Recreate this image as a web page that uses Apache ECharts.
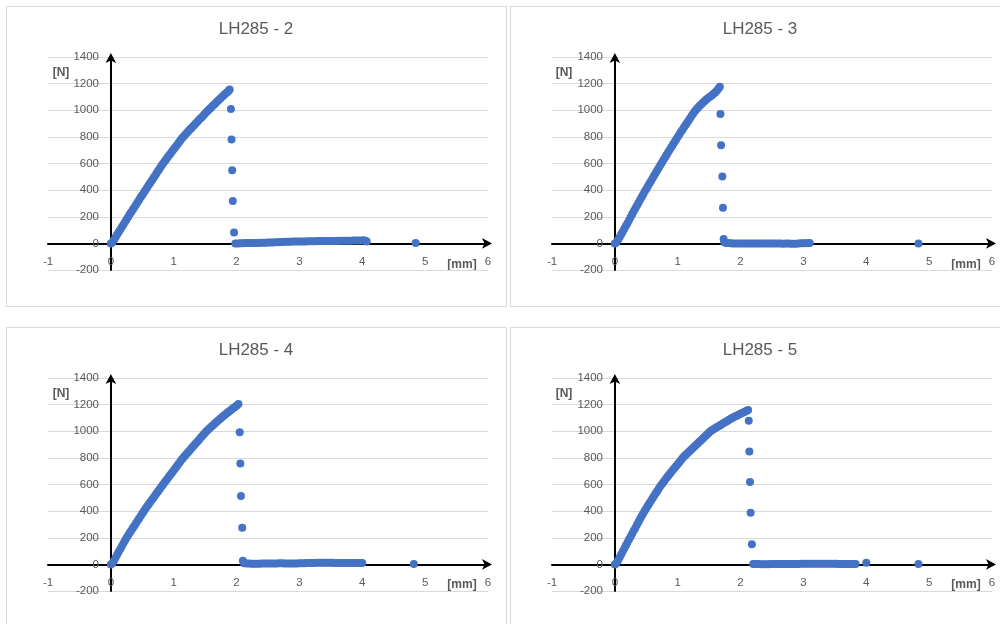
<!DOCTYPE html>
<html>
<head>
<meta charset="utf-8">
<script src="https://cdn.jsdelivr.net/npm/echarts@6/dist/echarts.min.js"></script>
<style>
html,body{margin:0;padding:0;background:#fff;}
#c{width:1000px;height:624px;}
</style>
</head>
<body>
<div id="c"></div>
<script>
// ---- data (displacement [mm], force [N]) ----
var titles = ['LH285 - 2', 'LH285 - 3', 'LH285 - 4', 'LH285 - 5'];
var xTicks = { min: -1, max: 6, interval: 1 };
var yTicks = { min: -200, max: 1400, interval: 200 };

var lh285_2 = [
  [0,0],[0.025,8],[0.05,25],[0.075,46],[0.1,66],[0.125,85],[0.15,104],[0.175,123],[0.2,142],[0.225,161],
  [0.25,180],[0.275,199],[0.3,218],[0.325,236],[0.35,254],[0.375,272],[0.4,290],[0.425,309],[0.45,327],[0.475,346],
  [0.5,364],[0.525,382],[0.55,400],[0.575,418],[0.6,436],[0.625,453],[0.65,471],[0.675,489],[0.7,507],[0.725,525],
  [0.75,543],[0.775,561],[0.8,579],[0.825,596],[0.85,613],[0.875,629],[0.9,645],[0.925,661],[0.95,676],[0.975,692],
  [1.0,707],[1.025,723],[1.05,738],[1.075,754],[1.1,769],[1.125,785],[1.15,800],[1.175,813],[1.2,826],[1.225,838],
  [1.25,851],[1.275,863],[1.3,876],[1.325,888],[1.35,901],[1.375,913],[1.4,926],[1.425,938],[1.45,950],[1.475,963],
  [1.5,975],[1.525,988],[1.55,1000],[1.575,1012],[1.6,1023],[1.625,1035],[1.65,1046],[1.675,1058],[1.7,1069],[1.725,1081],
  [1.75,1092],[1.775,1103],[1.8,1114],[1.825,1125],[1.85,1136],[1.875,1147],[1.89,1155],
  [1.91,1010],[1.92,780],[1.93,550],[1.94,318],[1.96,82],
  [1.98,0],[2.02,0],[2.06,1],[2.1,1],[2.14,2],[2.18,2],[2.22,2],[2.26,2],[2.3,3],[2.34,3],
  [2.38,4],[2.42,4],[2.46,5],[2.5,6],[2.54,6],[2.58,7],[2.62,8],[2.66,9],[2.7,10],[2.74,11],
  [2.78,12],[2.82,13],[2.86,13],[2.9,14],[2.94,14],[2.98,15],[3.02,15],[3.06,15],[3.1,15],[3.14,16],
  [3.18,16],[3.22,16],[3.26,16],[3.3,17],[3.34,17],[3.38,17],[3.42,17],[3.46,18],[3.5,18],[3.54,18],
  [3.58,18],[3.62,19],[3.66,19],[3.7,19],[3.74,19],[3.78,20],[3.82,20],[3.86,21],[3.9,21],[3.94,22],
  [3.98,22],[4.02,23],[4.05,20],[4.07,15],
  [4.85,3]
];
var lh285_3 = [
  [0,0],[0.025,8],[0.05,26],[0.075,46],[0.1,67],[0.125,88],[0.15,109],[0.175,131],[0.2,152],[0.225,174],
  [0.25,197],[0.275,219],[0.3,241],[0.325,262],[0.35,283],[0.375,304],[0.4,326],[0.425,347],[0.45,368],[0.475,389],
  [0.5,409],[0.525,429],[0.55,449],[0.575,469],[0.6,489],[0.625,509],[0.65,529],[0.675,549],[0.7,569],[0.725,589],
  [0.75,608],[0.775,628],[0.8,647],[0.825,666],[0.85,686],[0.875,705],[0.9,724],[0.925,743],[0.95,762],[0.975,781],
  [1.0,800],[1.025,818],[1.05,836],[1.075,854],[1.1,872],[1.125,890],[1.15,907],[1.175,925],[1.2,942],[1.225,960],
  [1.25,977],[1.275,994],[1.3,1008],[1.325,1021],[1.35,1033],[1.375,1045],[1.4,1057],[1.425,1068],[1.45,1078],[1.475,1088],
  [1.5,1097],[1.525,1105],[1.55,1115],[1.575,1125],[1.6,1135],[1.625,1148],[1.65,1163],[1.67,1177],
  [1.68,972],[1.69,737],[1.71,502],[1.72,268],[1.73,32],
  [1.74,8],[1.77,3],[1.8,2],[1.84,1],[1.88,0],[1.92,0],[1.96,0],[2.0,-1],[2.04,-1],[2.08,-1],
  [2.12,-1],[2.16,-1],[2.2,-1],[2.24,-1],[2.28,-1],[2.32,-1],[2.36,-1],[2.4,-1],[2.44,-1],[2.48,0],
  [2.52,0],[2.56,0],[2.6,-1],[2.64,-1],[2.68,-2],[2.72,-1],[2.76,0],[2.8,-2],[2.84,-3],[2.88,-2],
  [2.92,0],[2.96,1],[3.0,1],[3.04,1],[3.08,2],[3.1,2],
  [4.83,0]
];
var lh285_4 = [
  [0,0],[0.025,8],[0.05,28],[0.075,50],[0.1,72],[0.125,94],[0.15,115],[0.175,137],[0.2,158],[0.225,179],
  [0.25,200],[0.275,219],[0.3,237],[0.325,255],[0.35,273],[0.375,291],[0.4,309],[0.425,327],[0.45,345],[0.475,364],
  [0.5,382],[0.525,400],[0.55,417],[0.575,434],[0.6,450],[0.625,467],[0.65,483],[0.675,499],[0.7,515],[0.725,532],
  [0.75,548],[0.775,565],[0.8,581],[0.825,597],[0.85,613],[0.875,629],[0.9,644],[0.925,660],[0.95,675],[0.975,691],
  [1.0,706],[1.025,722],[1.05,738],[1.075,754],[1.1,769],[1.125,785],[1.15,800],[1.175,814],[1.2,827],[1.225,841],
  [1.25,854],[1.275,868],[1.3,881],[1.325,895],[1.35,908],[1.375,922],[1.4,935],[1.425,949],[1.45,962],[1.475,976],
  [1.5,989],[1.525,1001],[1.55,1013],[1.575,1024],[1.6,1035],[1.625,1046],[1.65,1056],[1.675,1067],[1.7,1077],[1.725,1088],
  [1.75,1098],[1.775,1108],[1.8,1118],[1.825,1128],[1.85,1137],[1.875,1147],[1.9,1156],[1.925,1165],[1.95,1174],[1.975,1183],
  [2.0,1192],[2.03,1205],
  [2.05,992],[2.06,757],[2.07,514],[2.09,275],[2.1,28],
  [2.12,8],[2.16,7],[2.2,6],[2.24,5],[2.28,5],[2.32,5],[2.36,5],[2.4,6],[2.44,6],[2.48,6],
  [2.52,6],[2.56,7],[2.6,7],[2.64,7],[2.68,8],[2.72,8],[2.76,7],[2.8,7],[2.84,6],[2.88,6],
  [2.92,6],[2.96,7],[3.0,8],[3.04,9],[3.08,9],[3.12,10],[3.16,10],[3.2,11],[3.24,11],[3.28,12],
  [3.32,12],[3.36,12],[3.4,12],[3.44,12],[3.48,12],[3.52,12],[3.56,11],[3.6,11],[3.64,11],[3.68,11],
  [3.72,11],[3.76,11],[3.8,11],[3.84,11],[3.88,11],[3.92,11],[3.96,10],[4.0,10],
  [4.82,3]
];
var lh285_5 = [
  [0,0],[0.025,8],[0.05,30],[0.075,52],[0.1,75],[0.125,97],[0.15,120],[0.175,142],[0.2,164],[0.225,186],
  [0.25,208],[0.275,230],[0.3,252],[0.325,274],[0.35,296],[0.375,318],[0.4,340],[0.425,361],[0.45,382],[0.475,402],
  [0.5,422],[0.525,441],[0.55,460],[0.575,478],[0.6,497],[0.625,515],[0.65,534],[0.675,552],[0.7,570],[0.725,588],
  [0.75,604],[0.775,619],[0.8,636],[0.825,651],[0.85,665],[0.875,680],[0.9,695],[0.925,710],[0.95,724],[0.975,739],
  [1.0,753],[1.025,768],[1.05,782],[1.075,797],[1.1,810],[1.125,821],[1.15,833],[1.175,844],[1.2,855],[1.225,867],
  [1.25,878],[1.275,889],[1.3,901],[1.325,912],[1.35,923],[1.375,935],[1.4,946],[1.425,957],[1.45,968],[1.475,980],
  [1.5,991],[1.525,1001],[1.55,1009],[1.575,1016],[1.6,1024],[1.625,1031],[1.65,1038],[1.675,1045],[1.7,1052],[1.725,1060],
  [1.75,1067],[1.775,1074],[1.8,1081],[1.825,1088],[1.85,1095],[1.875,1102],[1.9,1108],[1.925,1114],[1.95,1119],[1.975,1125],
  [2.0,1131],[2.025,1137],[2.05,1142],[2.075,1148],[2.1,1154],[2.12,1160],
  [2.13,1078],[2.14,848],[2.15,618],[2.16,388],[2.18,152],
  [2.2,2],[2.24,2],[2.28,2],[2.32,1],[2.36,1],[2.4,1],[2.44,1],[2.48,2],[2.52,2],[2.56,2],
  [2.6,2],[2.64,2],[2.68,3],[2.72,3],[2.76,3],[2.8,3],[2.84,3],[2.88,3],[2.92,3],[2.96,4],
  [3.0,4],[3.04,4],[3.08,4],[3.12,4],[3.16,4],[3.2,4],[3.24,4],[3.28,4],[3.32,4],[3.36,4],
  [3.4,4],[3.44,4],[3.48,4],[3.52,4],[3.56,3],[3.6,3],[3.64,3],[3.68,3],[3.72,3],[3.76,3],
  [3.8,2],[3.83,2],
  [4.0,12],[4.83,3]
];
var seriesData = [lh285_2, lh285_3, lh285_4, lh285_5];

// ---- layout ----
var panels = [
  { bx: 6,   by: 6,   gl: 48,  gt: 57,  title: [256, 29],  n: [61, 73],   mm: [462, 265] },
  { bx: 510, by: 6,   gl: 552, gt: 57,  title: [760, 29],  n: [564, 73],  mm: [966, 265] },
  { bx: 6,   by: 327, gl: 48,  gt: 378, title: [256, 350], n: [61, 394],  mm: [462, 585] },
  { bx: 510, by: 327, gl: 552, gt: 378, title: [760, 350], n: [564, 394], mm: [966, 585] }
];
var textColor = '#595959';
var font = 'Liberation Sans, Arial, sans-serif';
function plain(v) { return String(v); }

var grids = [], xAxes = [], yAxes = [], series = [], graphics = [];
panels.forEach(function (p, i) {
  graphics.push({ type: 'rect', z: -10, shape: { x: p.bx + 0.5, y: p.by + 0.5, width: 500, height: 300 },
    style: { fill: '#fff', stroke: '#d9d9d9', lineWidth: 1 } });
  graphics.push({ type: 'text', x: p.title[0], y: p.title[1],
    style: { text: titles[i], fill: textColor, font: '17px ' + font, textAlign: 'center', textVerticalAlign: 'middle' } });
  graphics.push({ type: 'text', x: p.n[0], y: p.n[1],
    style: { text: '[N]', fill: textColor, font: 'bold 12px ' + font, textAlign: 'center', textVerticalAlign: 'middle' } });
  graphics.push({ type: 'text', x: p.mm[0], y: p.mm[1],
    style: { text: '[mm]', fill: textColor, font: 'bold 12px ' + font, textAlign: 'center', textVerticalAlign: 'middle' } });

  grids.push({ left: p.gl, top: p.gt, width: 440, height: 213, containLabel: false });
  xAxes.push({
    type: 'value', gridIndex: i, min: xTicks.min, max: xTicks.max, interval: xTicks.interval,
    axisLine: { show: true, onZero: true, symbol: ['none', 'arrow'], symbolSize: [8, 10], symbolOffset: [0, 4],
      lineStyle: { color: '#000', width: 2 } },
    axisTick: { show: false },
    axisLabel: { color: textColor, fontSize: 11.5, fontFamily: font, margin: -14, formatter: plain },
    splitLine: { show: false }
  });
  yAxes.push({
    type: 'value', gridIndex: i, min: yTicks.min, max: yTicks.max, interval: yTicks.interval,
    axisLine: { show: true, onZero: true, symbol: ['none', 'arrow'], symbolSize: [8, 10], symbolOffset: [0, 4],
      lineStyle: { color: '#000', width: 2 } },
    axisTick: { show: false },
    axisLabel: { color: textColor, fontSize: 11.5, fontFamily: font, margin: -51, formatter: plain },
    splitLine: { show: true, lineStyle: { color: '#d9d9d9', width: 1 } }
  });
  series.push({
    type: 'scatter', xAxisIndex: i, yAxisIndex: i, data: seriesData[i], symbolSize: 8,
    itemStyle: { color: '#4472C4', opacity: 1 }, z: 3, animation: false
  });
});

var chart = echarts.init(document.getElementById('c'), null, { renderer: 'canvas' });
chart.setOption({
  backgroundColor: '#fff',
  animation: false,
  graphic: graphics,
  grid: grids,
  xAxis: xAxes,
  yAxis: yAxes,
  series: series
});
</script>
</body>
</html>
